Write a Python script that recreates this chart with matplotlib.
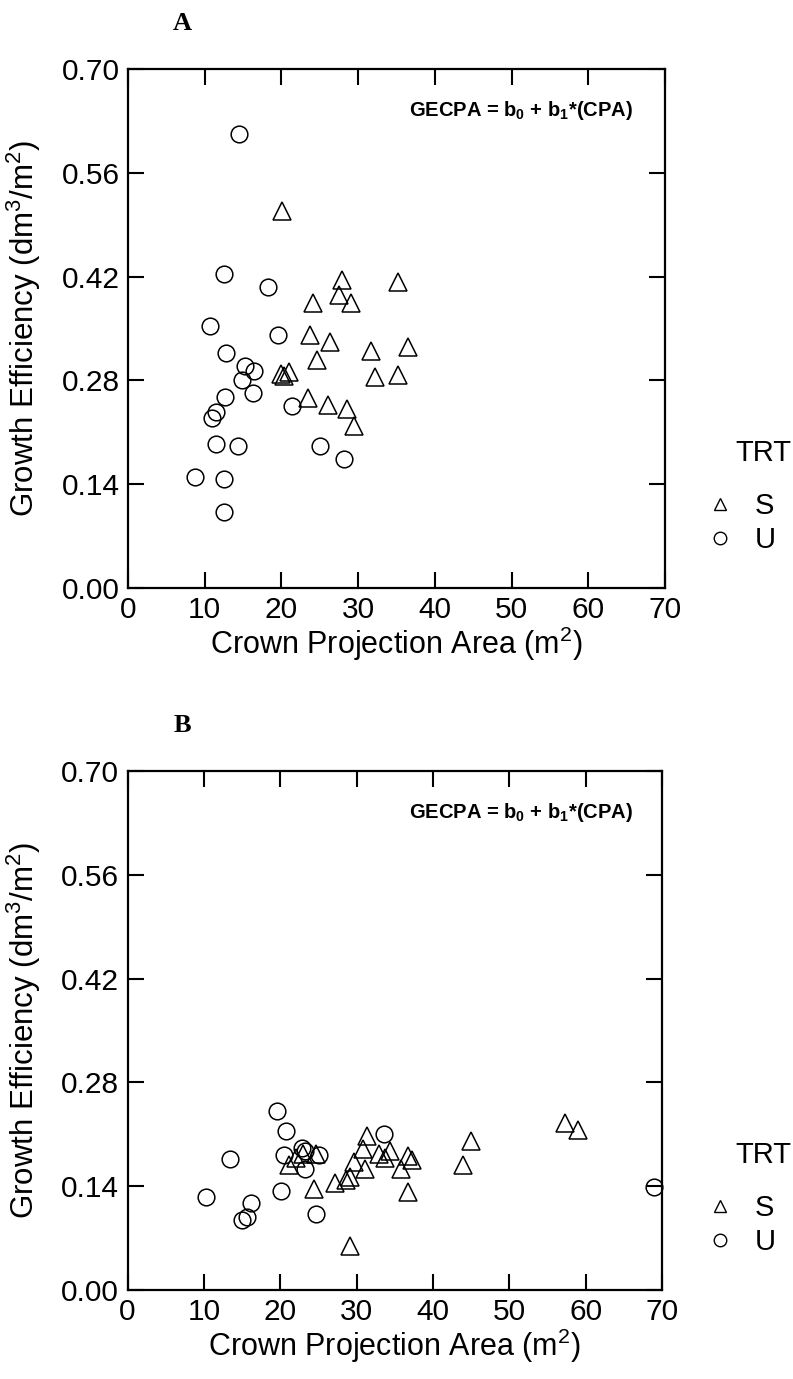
import matplotlib
matplotlib.use("Agg")
import matplotlib.pyplot as plt
from matplotlib.lines import Line2D

plt.rcParams['font.family'] = ['Liberation Sans', 'DejaVu Sans']
plt.rcParams['mathtext.fontset'] = 'custom'
plt.rcParams['mathtext.rm'] = 'Liberation Sans'
plt.rcParams['mathtext.bf'] = 'Liberation Sans:bold'

# Panel A data
a_s_x = [20.1, 27.9, 35.2, 27.5, 29.1, 24.1, 23.7, 26.3, 31.7, 36.45, 24.6,
         20.0, 20.4, 21.0, 32.25, 35.15, 23.4, 26.1, 28.6, 29.4]
a_s_y = [0.508, 0.415, 0.413, 0.395, 0.385, 0.384, 0.341, 0.332, 0.320, 0.325, 0.308,
         0.288, 0.286, 0.291, 0.284, 0.287, 0.256, 0.247, 0.242, 0.218]
a_u_x = [14.5, 12.5, 18.2, 10.75, 19.5, 12.8, 15.2, 16.4, 14.9, 16.3, 12.7, 21.4,
         11.5, 10.9, 11.5, 14.35, 25.0, 28.2, 8.7, 12.5, 12.5]
a_u_y = [0.612, 0.424, 0.406, 0.354, 0.341, 0.317, 0.299, 0.293, 0.281, 0.263, 0.257, 0.245,
         0.238, 0.229, 0.194, 0.192, 0.192, 0.174, 0.150, 0.147, 0.102]

# Panel B data
b_s_x = [31.4, 30.9, 33.0, 34.4, 33.7, 36.7, 37.3, 29.6, 31.1, 35.8, 21.1, 22.1, 23.0,
         24.7, 29.1, 28.6, 27.2, 24.4, 36.7, 29.2, 45.0, 43.9, 57.3, 59.0]
b_s_y = [0.208, 0.190, 0.183, 0.187, 0.178, 0.181, 0.176, 0.173, 0.163, 0.163, 0.169, 0.178, 0.184,
         0.183, 0.153, 0.148, 0.144, 0.136, 0.132, 0.060, 0.201, 0.168, 0.225, 0.216]
b_u_x = [19.6, 20.8, 33.6, 13.4, 20.5, 22.9, 23.3, 25.1, 23.3, 20.1, 10.3, 16.2,
         15.6, 15.0, 24.7, 68.9]
b_u_y = [0.241, 0.214, 0.211, 0.177, 0.182, 0.192, 0.188, 0.182, 0.163, 0.134, 0.125, 0.118,
         0.099, 0.095, 0.103, 0.139]

x_ticks = [0, 10, 20, 30, 40, 50, 60, 70]
y_ticks = [0.00, 0.14, 0.28, 0.42, 0.56, 0.70]
panel_labels = ['A', 'B']
equation = r'GECPA = b$_\mathbf{0}$ + b$_\mathbf{1}$*(CPA)'
x_label = 'Crown Projection Area (m$^2$)'
y_label = 'Growth Efficiency (dm$^3$/m$^2$)'
legend_title = 'TRT'
groups = ['S', 'U']

W, H = 793, 1379
fig = plt.figure(figsize=(W / 100, H / 100), dpi=100)

panels = [
    (a_s_x, a_s_y, a_u_x, a_u_y, (128, 665, 69, 588)),
    (b_s_x, b_s_y, b_u_x, b_u_y, (127.5, 662, 771, 1290)),
]

for i, (sx, sy, ux, uy, (l, r, t, b)) in enumerate(panels):
    ax = fig.add_axes([l / W, 1 - b / H, (r - l) / W, (b - t) / H])
    ax.plot(sx, sy, linestyle='none', marker='^', markersize=12.5,
            markerfacecolor='none', markeredgecolor='black', markeredgewidth=1.1, clip_on=False)
    ax.plot(ux, uy, linestyle='none', marker='o', markersize=12,
            markerfacecolor='none', markeredgecolor='black', markeredgewidth=1.1, clip_on=False)
    ax.set_xlim(0, 70)
    ax.set_ylim(0, 0.70)
    ax.set_xticks(x_ticks)
    ax.set_yticks(y_ticks)
    ax.set_xticklabels([str(v) for v in x_ticks])
    ax.set_yticklabels([f'{v:.2f}' for v in y_ticks])
    ax.tick_params(direction='in', length=11.5, width=1.5, top=True, right=True,
                   labelsize=21.5, pad=6)
    for sp in ax.spines.values():
        sp.set_linewidth(1.6)
    ax.set_xlabel(x_label, fontsize=22)
    ax.set_ylabel(y_label, fontsize=22.5)
    ax.xaxis.set_label_coords(0.5, -0.071)
    ax.yaxis.set_label_coords(-0.158, 0.5)
    fig.text(633 / W, 1 - (t + 41) / H, equation, ha='right', va='center',
             fontsize=14.5, fontweight='bold')
    fig.text(182 / W, 1 - (t - 46) / H, panel_labels[i], ha='center', va='center',
             fontsize=19, fontweight='bold', family='Liberation Serif')
    fig.text(763 / W, 1 - (t + 384) / H, legend_title, ha='center', va='center',
             fontsize=21)
    handles = [Line2D([], [], linestyle='none', marker='^', markersize=9,
                      markerfacecolor='none', markeredgecolor='black', markeredgewidth=1.0),
               Line2D([], [], linestyle='none', marker='o', markersize=9,
                      markerfacecolor='none', markeredgecolor='black', markeredgewidth=1.0)]
    fig.legend(handles, groups, loc='center left',
               bbox_to_anchor=(705 / W, 1 - (t + 454) / H), frameon=False,
               fontsize=21, handlelength=1.0, handletextpad=0.7,
               labelspacing=0.2, borderpad=0.0, borderaxespad=0.0)

fig.savefig('out.png', dpi=100)
